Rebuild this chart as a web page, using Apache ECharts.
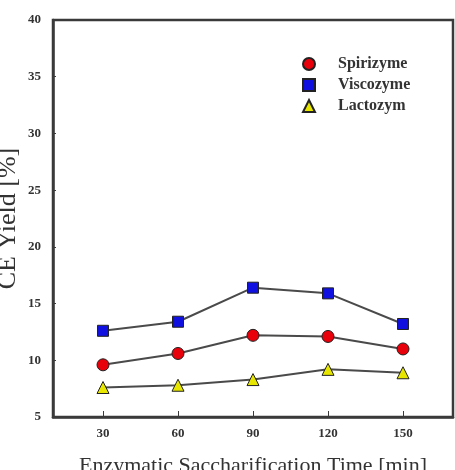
<!DOCTYPE html>
<html>
<head>
<meta charset="utf-8">
<script src="https://cdn.jsdelivr.net/npm/echarts@6/dist/echarts.min.js"></script>
<style>
html,body{margin:0;padding:0;background:#fff;}
#chart{width:455px;height:470px;}
</style>
</head>
<body>
<div id="chart"></div>
<script>
var times = [30, 60, 90, 120, 150];
var spirizyme = [9.6, 10.6, 12.2, 12.1, 11.0];
var viscozyme = [12.6, 13.4, 16.4, 15.9, 13.2];
var lactozym = [7.6, 7.8, 8.3, 9.2, 8.9];
var xTicks = [30, 60, 90, 120, 150];
var seriesNames = ['Spirizyme', 'Viscozyme', 'Lactozym'];

function pairs(vals) { return times.map(function (t, i) { return [t, vals[i]]; }); }

var chart = echarts.init(document.getElementById('chart'), null, {renderer: 'canvas'});
var serif = '"Liberation Serif", "Times New Roman", serif';
var axisCol = '#3a3a3a';
var mk = function (name, vals, symbol, size, color) {
  return {
    name: name, type: 'line', data: pairs(vals),
    symbol: symbol, symbolSize: size,
    lineStyle: {color: '#4a4a4a', width: 2},
    itemStyle: {color: color, borderColor: '#222', borderWidth: 1},
    emphasis: {disabled: true}, z: 3
  };
};
chart.setOption({
  backgroundColor: '#fff',
  animation: false,
  grid: {left: 53, right: 2, top: 20, bottom: 53, show: true, borderColor: axisCol, borderWidth: 2.5,
         containLabel: false, outerBoundsMode: 'none'},
  legend: {
    orient: 'vertical', left: 297, top: 51, itemWidth: 12, itemHeight: 12, itemGap: 5,
    data: [{name: seriesNames[0], icon: 'circle'}, {name: seriesNames[1], icon: 'rect'}, {name: seriesNames[2], icon: 'triangle'}],
    textStyle: {fontFamily: serif, fontWeight: 'bold', fontSize: 16, color: '#333', padding: [0, 0, 0, 18]}
  },
  xAxis: {
    type: 'value', min: 10, max: 170, interval: 10,
    name: 'Enzymatic Saccharification Time [min]', nameLocation: 'middle', nameGap: 38,
    nameMoveOverlap: false,
    nameTextStyle: {fontFamily: serif, fontSize: 22, color: '#333'},
    axisLine: {show: true, lineStyle: {color: axisCol, width: 2.5}},
    axisTick: {show: true, inside: true, length: 6, customValues: xTicks, lineStyle: {color: axisCol, width: 1}},
    axisLabel: {customValues: xTicks, margin: 10, fontFamily: serif, fontWeight: 'bold', fontSize: 13, color: '#333'},
    splitLine: {show: false}
  },
  yAxis: {
    type: 'value', min: 5, max: 40, interval: 5,
    name: 'CE Yield [%]', nameLocation: 'middle', nameGap: 32,
    nameMoveOverlap: false,
    nameTextStyle: {fontFamily: serif, fontSize: 26, color: '#333'},
    axisLine: {show: true, lineStyle: {color: axisCol, width: 2.5}},
    axisTick: {show: true, inside: true, length: 3, lineStyle: {color: axisCol, width: 1}},
    axisLabel: {margin: 12, fontFamily: serif, fontWeight: 'bold', fontSize: 13, color: '#333'},
    splitLine: {show: false}
  },
  series: [
    mk(seriesNames[0], spirizyme, 'circle', 12, '#e8000b'),
    mk(seriesNames[1], viscozyme, 'rect', 11, '#1010e0'),
    mk(seriesNames[2], lactozym, 'triangle', 12, '#e6e600')
  ]
});
</script>
</body>
</html>
